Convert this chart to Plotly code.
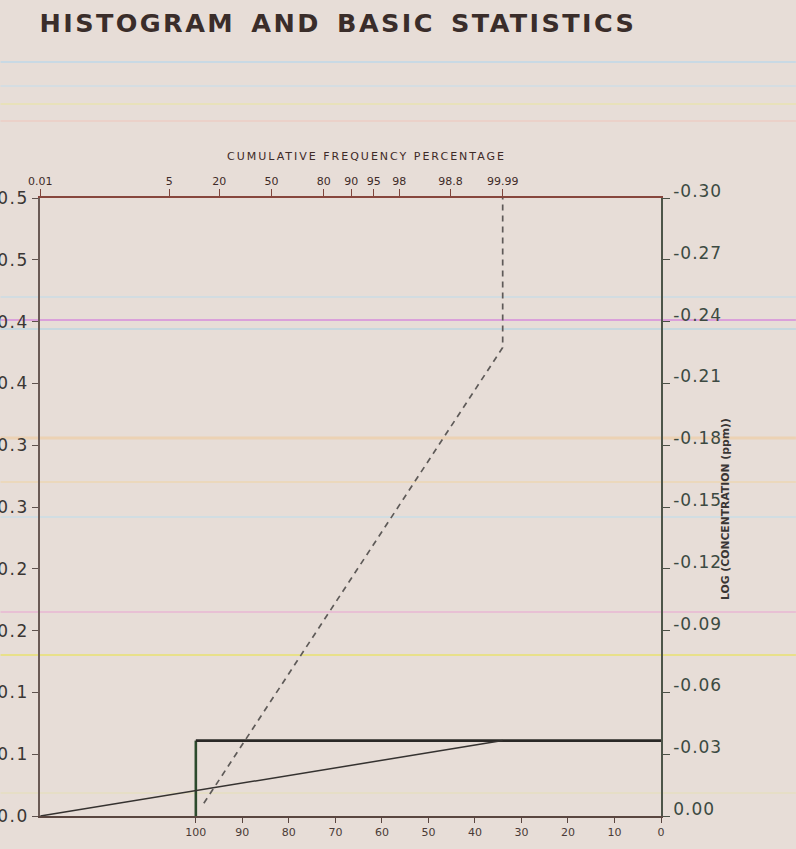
from statistics import NormalDist
import plotly.graph_objects as go

# ---------------- data ----------------
title_text = "HISTOGRAM AND BASIC STATISTICS"
top_title = "CUMULATIVE FREQUENCY PERCENTAGE"
right_title = "LOG (CONCENTRATION (ppm))"

# top (probability) axis: cumulative frequency percentage
top_tick_pct = [0.01, 5, 20, 50, 80, 90, 95, 98, 99.8, 99.99]
top_tick_labels = ["0.01", "5", "20", "50", "80", "90", "95", "98", "98.8", "99.99"]

# bottom axis: histogram frequency (%)
bottom_tick_vals = [100, 90, 80, 70, 60, 50, 40, 30, 20, 10, 0]
bottom_tick_labels = ["100", "90", "80", "70", "60", "50", "40", "30", "20", "10", "0"]

# left axis
left_tick_vals = [0.0, 0.05, 0.10, 0.15, 0.20, 0.25, 0.30, 0.35, 0.40, 0.45, 0.50]
left_tick_labels = ["0.0", "0.1", "0.1", "0.2", "0.2", "0.3", "0.3", "0.4", "0.4", "0.5", "0.5"]

# right axis: log concentration
right_tick_vals = [0.00, -0.03, -0.06, -0.09, -0.12, -0.15, -0.18, -0.21, -0.24, -0.27, -0.30]
right_tick_labels = ["0.00", "-0.03", "-0.06", "-0.09", "-0.12", "-0.15",
                     "-0.18", "-0.21", "-0.24", "-0.27", "-0.30"]

# histogram: one class holding 100 % of the samples
hist_freq = [100, 100]
hist_bin = [0.0, 0.061]

# cumulative frequency curve (solid)
cum_pct = [0.01, 99.99]
cum_val = [0.0, 0.061]

# fitted normal line (dashed)
fit_pct = [13.8, 99.99, 99.99]
fit_val = [0.0103, 0.379, 0.5]

# ---------------- helpers ----------------
nd = NormalDist()


def probit(pcts):
    return [nd.inv_cdf(p / 100.0) for p in pcts]


def spaced(labels, ls):
    return ['<span style="letter-spacing:%spx">%s</span>' % (ls, t) for t in labels]


BG = "#e7ddd7"
INK = "#3a2d2a"

fig = go.Figure()

# histogram bar outline
fig.add_trace(go.Scatter(
    x=hist_freq, y=hist_bin, mode="lines", xaxis="x", yaxis="y",
    line=dict(color="#2c4a2c", width=2.6), hoverinfo="skip", showlegend=False))
fig.add_trace(go.Scatter(
    x=[hist_freq[1], 0], y=[hist_bin[1], hist_bin[1]], mode="lines", xaxis="x", yaxis="y",
    line=dict(color="#2a2826", width=2.6), hoverinfo="skip", showlegend=False))

# cumulative curve on probability axis
fig.add_trace(go.Scatter(
    x=probit(cum_pct), y=cum_val, mode="lines", xaxis="x2", yaxis="y",
    line=dict(color="#353230", width=1.5), hoverinfo="skip", showlegend=False))

# dashed fitted line
fig.add_trace(go.Scatter(
    x=probit(fit_pct), y=fit_val, mode="lines", xaxis="x2", yaxis="y",
    line=dict(color="#5e5a58", width=1.7, dash="6px,5px"), hoverinfo="skip", showlegend=False))

# invisible trace to carry the right axis
fig.add_trace(go.Scatter(
    x=[0], y=[0], mode="markers", xaxis="x", yaxis="y2",
    marker=dict(opacity=0), hoverinfo="skip", showlegend=False))

ML, MR, MT, MB = 39.5, 135, 198, 33
W, H = 796, 849
pw = W - ML - MR
ph = H - MT - MB


def px_to_py(py):
    return (H - MB - py) / ph


def px_to_px(px):
    return (px - ML) / pw


# scanner streaks
streaks = [
    (62, "#c9d9e4", 2.0), (86, "#cfdde6", 1.5), (104, "#e9e2b0", 1.5),
    (121, "#ecccc4", 1.5), (297, "#cbdbe5", 1.5), (320, "#d68bdb", 1.6),
    (329, "#bcd6e2", 1.4), (438, "#ecd2b4", 3.0), (482, "#ebd8bc", 2.0),
    (517, "#cadde6", 1.5), (612, "#e9a3d2", 1.2), (655, "#e8e08a", 2.0),
    (793, "#e6e0b6", 1.2),
]
shapes = []
for py, col, lw in streaks:
    shapes.append(dict(type="line", xref="paper", yref="paper",
                       x0=px_to_px(0), x1=px_to_px(W), y0=px_to_py(py), y1=px_to_py(py),
                       line=dict(color=col, width=lw), layer="below"))

fig.update_layout(
    width=W, height=H,
    paper_bgcolor=BG, plot_bgcolor="rgba(0,0,0,0)",
    margin=dict(l=ML, r=MR, t=MT, b=MB, autoexpand=False),
    showlegend=False,
    shapes=shapes,
    title=dict(
        text='<span style="letter-spacing:2.4px;word-spacing:5px">' + title_text + '</span>',
        x=ML / W, xanchor="left", xref="container",
        y=1 - 23 / H, yanchor="middle", yref="container",
        font=dict(family="DejaVu Sans", size=25.5, color=INK, weight="bold")),
    xaxis=dict(
        domain=[0, 1], range=[133.5, 0], anchor="y", side="bottom",
        tickmode="array", tickvals=bottom_tick_vals, ticktext=bottom_tick_labels,
        ticks="outside", ticklen=5, tickwidth=1.2, tickcolor="#5a4640",
        showline=True, linecolor="#5a4640", linewidth=1.6,
        showgrid=False, zeroline=False,
        tickfont=dict(family="DejaVu Sans", size=11, color="#4a3a36")),
    xaxis2=dict(
        overlaying="x", side="top", anchor="y",
        range=[-3.725, 6.266],
        tickmode="array", tickvals=probit(top_tick_pct), ticktext=top_tick_labels,
        ticks="outside", ticklen=7, tickwidth=1.2, tickcolor="#7e443b",
        showline=True, linecolor="#87463d", linewidth=1.6,
        showgrid=False, zeroline=False,
        tickfont=dict(family="DejaVu Sans", size=11, color="#3e2a27")),
    yaxis=dict(
        domain=[0, 1], range=[0, 0.5], anchor="x", side="left",
        tickmode="array", tickvals=left_tick_vals, ticktext=spaced(left_tick_labels, 1.5),
        ticks="outside", ticklen=6, tickwidth=1.2, tickcolor="#5e524e",
        showline=True, linecolor="#6a5a55", linewidth=1.6,
        showgrid=False, zeroline=False,
        tickfont=dict(family="DejaVu Sans", size=17, color="#3a3634")),
    yaxis2=dict(
        overlaying="y", side="right", anchor="x",
        range=[0, -0.30],
        tickmode="array", tickvals=right_tick_vals, ticktext=spaced(right_tick_labels, 1.0),
        ticks="outside", ticklen=7, tickwidth=1.2, tickcolor="#4a5046",
        ticklabelshift=7, ticklabelstandoff=0,
        showline=True, linecolor="#4d5549", linewidth=1.6,
        showgrid=False, zeroline=False,
        tickfont=dict(family="DejaVu Sans", size=17, color="#3c4a42")),
    annotations=[
        dict(text='<span style="letter-spacing:2px">' + top_title + '</span>',
             xref="paper", yref="paper", x=px_to_px(366), y=px_to_py(156),
             xanchor="center", yanchor="middle", showarrow=False,
             font=dict(family="DejaVu Sans", size=11, color="#3e2a27")),
        dict(text=right_title, textangle=-90,
             xref="paper", yref="paper", x=px_to_px(725), y=px_to_py(509),
             xanchor="center", yanchor="middle", showarrow=False,
             font=dict(family="DejaVu Sans", size=10.8, color="#3a3634", weight="bold")),
    ],
)

fig.write_html(
    "out.html",
    config={"displayModeBar": False},
    post_script="document.body.style.margin='0';document.body.style.background='#e7ddd7';"
                "document.body.style.overflow='hidden';",
)
